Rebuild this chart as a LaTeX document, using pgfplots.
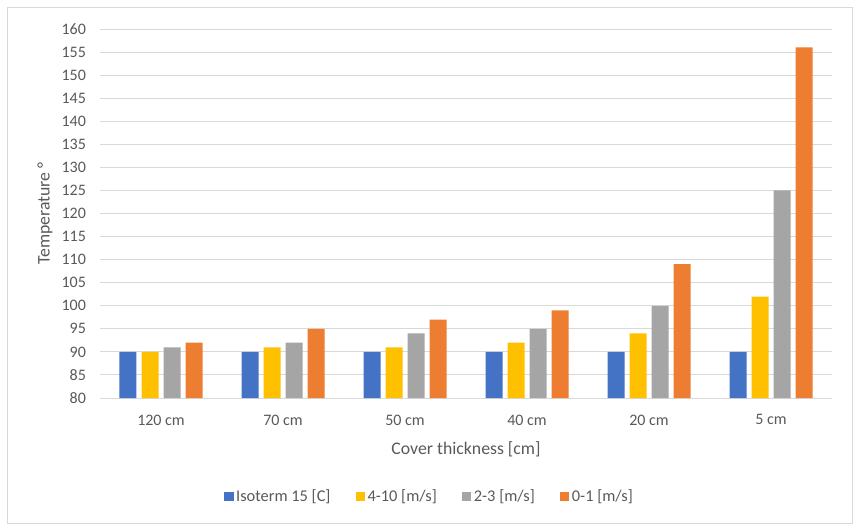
\documentclass[border=0pt]{standalone}
\usepackage{fontspec}
\setmainfont{Carlito}
\usepackage{pgfplots}
\pgfplotsset{compat=1.18}
\definecolor{cBlue}{HTML}{4472C4}
\definecolor{cYellow}{HTML}{FFC000}
\definecolor{cGray}{HTML}{A5A5A5}
\definecolor{cOrange}{HTML}{ED7D31}
\definecolor{gridc}{HTML}{D9D9D9}
\definecolor{txt}{HTML}{595959}
\begin{document}
\begin{tikzpicture}
% page size and chart frame (1px = 0.75pt)
\path (-75pt,-99.75pt) rectangle (571.5pt,298.5pt);
\draw[gridc, line width=0.75pt] (-69pt,-93.75pt) rectangle (564pt,292.5pt);
\begin{axis}[
    at={(0,0)}, anchor=south west,
    scale only axis,
    width=549pt, height=276.75pt,
    ybar=3.75pt, bar width=12.75pt,
    xmin=-0.5, xmax=5.5,
    ymin=80, ymax=160,
    ytick={80,85,...,160},
    xtick={0,...,5},
    xticklabels={120 cm,70 cm,50 cm,40 cm,20 cm,5 cm},
    major tick length=0pt,
    axis y line*=left,
    axis x line*=bottom,
    y axis line style={draw=none},
    x axis line style={gridc, line width=0.75pt, -},
    ymajorgrids,
    grid style={gridc, line width=0.75pt},
    tick label style={font=\fontsize{12}{14}\selectfont, text=txt},
    /pgf/number format/assume math mode=true,
    yticklabel style={xshift=-7pt},
    xticklabel style={yshift=-9pt},
    xlabel={Cover thickness [cm]},
    ylabel={Temperature °},
    label style={font=\fontsize{13.3}{15}\selectfont, text=txt},
    xlabel style={at={(axis description cs:0.5,-0.138)}, anchor=center},
    ylabel style={at={(axis description cs:-0.0751,0.5)}, anchor=center},
    legend columns=4,
    legend style={at={(axis description cs:0.4508,-0.266)}, anchor=center,
        draw=none, fill=none, font=\fontsize{12.3}{14}\selectfont, text=txt,
        /tikz/every even column/.append style={column sep=17pt}},
    legend image code/.code={\fill[#1] (0pt,-3.4pt) rectangle (6.8pt,3.4pt);},
]
\addplot[fill=cBlue, draw=none] coordinates {(0,90) (1,90) (2,90) (3,90) (4,90) (5,90)};
\addplot[fill=cYellow, draw=none] coordinates {(0,90) (1,91) (2,91) (3,92) (4,94) (5,102)};
\addplot[fill=cGray, draw=none] coordinates {(0,91) (1,92) (2,94) (3,95) (4,100) (5,125)};
\addplot[fill=cOrange, draw=none] coordinates {(0,92) (1,95) (2,97) (3,99) (4,109) (5,156)};
\legend{Isoterm 15 [C],4-10 [m/s],2-3 [m/s],0-1 [m/s]}
\end{axis}
\end{tikzpicture}
\end{document}
